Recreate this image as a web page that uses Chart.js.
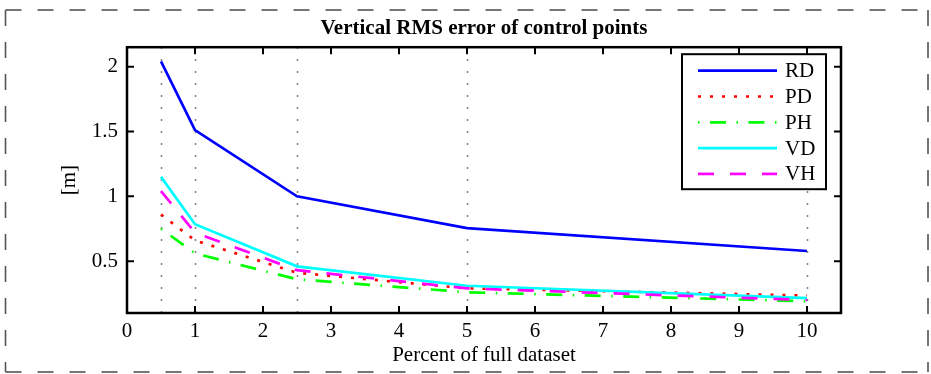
<!DOCTYPE html>
<html>
<head>
<meta charset="utf-8">
<title>Vertical RMS error of control points</title>
<script src="https://cdn.jsdelivr.net/npm/chart.js@4.4.1/dist/chart.umd.min.js"></script>
<style>
  html, body { margin: 0; padding: 0; background: #fff; }
  canvas { display: block; }
</style>
</head>
<body>
<canvas id="rmsChart" width="931" height="374"></canvas>
<script>
// percent of full dataset used
const percents = [0.5, 1, 2.5, 5, 10];

// vertical RMS error [m] per method
const rdErr = [2.04, 1.51, 1.00, 0.755, 0.578];
const pdErr = [0.86, 0.66, 0.41, 0.29, 0.235];
const phErr = [0.75, 0.56, 0.36, 0.26, 0.19];
const vdErr = [1.15, 0.785, 0.46, 0.31, 0.215];
const vhErr = [1.04, 0.72, 0.43, 0.29, 0.20];

const xTickValues = [0, 1, 2, 3, 4, 5, 6, 7, 8, 9, 10];
const yTickValues = [0.5, 1, 1.5, 2];

const serif = '"Liberation Serif", "Times New Roman", serif';

function series(label, values, color, dash, order) {
    return {
        label: label,
        data: values.map((v, i) => ({ x: percents[i], y: v })),
        borderColor: color,
        borderWidth: 2.7,
        borderDash: dash,
        pointRadius: 0,
        fill: false,
        tension: 0,
        order: order
    };
}

// matlab style frame: dotted grid at sample points, boxed axes with inward ticks,
// boxed legend and the dashed figure outline
const matlabFrame = {
    id: 'matlabFrame',
    beforeDatasetsDraw(chart) {
        const ctx = chart.ctx;
        const area = chart.chartArea;
        const x = chart.scales.x;
        ctx.save();
        ctx.strokeStyle = '#808080';
        ctx.lineWidth = 1.5;
        ctx.setLineDash([2, 10]);
        percents.forEach(p => {
            const px = Math.round(x.getPixelForValue(p)) + 0.5;
            ctx.beginPath();
            ctx.moveTo(px, area.bottom);
            ctx.lineTo(px, area.top);
            ctx.stroke();
        });
        ctx.restore();
    },
    afterDatasetsDraw(chart) {
        const ctx = chart.ctx;
        const area = chart.chartArea;
        const x = chart.scales.x;
        const y = chart.scales.y;
        const tick = 7;
        ctx.save();
        ctx.strokeStyle = '#000';
        ctx.lineWidth = 2;
        ctx.setLineDash([]);
        xTickValues.forEach(v => {
            const px = x.getPixelForValue(v);
            ctx.beginPath();
            ctx.moveTo(px, area.bottom);
            ctx.lineTo(px, area.bottom - tick);
            ctx.moveTo(px, area.top);
            ctx.lineTo(px, area.top + tick);
            ctx.stroke();
        });
        yTickValues.forEach(v => {
            const py = y.getPixelForValue(v);
            ctx.beginPath();
            ctx.moveTo(area.left, py);
            ctx.lineTo(area.left + tick, py);
            ctx.moveTo(area.right, py);
            ctx.lineTo(area.right - tick, py);
            ctx.stroke();
        });
        ctx.lineWidth = 2.5;
        ctx.strokeRect(area.left, area.top, area.right - area.left, area.bottom - area.top);
        ctx.restore();
    },
    afterDraw(chart) {
        const ctx = chart.ctx;
        const area = chart.chartArea;
        ctx.save();

        // legend box
        const lw = 144, lh = 135;
        const lx = area.right - 15 - lw;
        const ly = area.top + 7;
        ctx.fillStyle = '#fff';
        ctx.fillRect(lx, ly, lw, lh);
        ctx.strokeStyle = '#000';
        ctx.lineWidth = 2;
        ctx.strokeRect(lx, ly, lw, lh);
        ctx.font = '21px ' + serif;
        ctx.textBaseline = 'middle';
        ctx.textAlign = 'left';
        chart.data.datasets.forEach((ds, i) => {
            const rowY = ly + 16.5 + i * 25.8;
            ctx.strokeStyle = ds.borderColor;
            ctx.lineWidth = ds.borderWidth;
            ctx.setLineDash(ds.borderDash || []);
            ctx.beginPath();
            ctx.moveTo(lx + 16, rowY);
            ctx.lineTo(lx + 95, rowY);
            ctx.stroke();
            ctx.setLineDash([]);
            ctx.fillStyle = '#000';
            ctx.fillText(ds.label, lx + 103, rowY + 1);
        });

        // dashed figure outline
        const l = 5.5, t = 10, r = 928, b = 372;
        ctx.strokeStyle = '#555';
        ctx.lineWidth = 1.6;
        ctx.setLineDash([16, 16]);
        [[l, t, r, t], [l, t, l, b], [r, t, r, b], [l, b, r, b]].forEach(s => {
            ctx.beginPath();
            ctx.moveTo(s[0], s[1]);
            ctx.lineTo(s[2], s[3]);
            ctx.stroke();
        });
        ctx.restore();
    }
};

new Chart(document.getElementById('rmsChart'), {
    type: 'line',
    data: {
        datasets: [
            series('RD', rdErr, '#0000ff', [], 4),
            series('PD', pdErr, '#ff0000', [3, 9], 3),
            series('PH', phErr, '#00ff00', [1.5, 10.5, 16, 10.5], 2),
            series('VD', vdErr, '#00ffff', [], 1),
            series('VH', vhErr, '#ff00ff', [16, 16], 0)
        ]
    },
    options: {
        responsive: false,
        animation: false,
        devicePixelRatio: 1,
        layout: {
            padding: { left: 0, right: 90, top: 0, bottom: 0 }
        },
        plugins: {
            legend: { display: false },
            tooltip: { enabled: false },
            title: {
                display: true,
                text: 'Vertical RMS error of control points',
                color: '#000',
                fullSize: false,
                font: { family: serif, size: 21, weight: 'bold' },
                padding: { top: 16, bottom: 6 }
            }
        },
        scales: {
            x: {
                type: 'linear',
                min: 0,
                max: 10.5,
                afterBuildTicks: s => { s.ticks = xTickValues.map(v => ({ value: v })); },
                afterFit: s => { s.height = 61; },
                grid: { display: false, drawTicks: false },
                border: { display: false },
                ticks: {
                    color: '#000',
                    font: { family: serif, size: 21 },
                    padding: 6,
                    maxRotation: 0,
                    autoSkip: false,
                    callback: v => String(v)
                },
                title: {
                    display: true,
                    text: 'Percent of full dataset',
                    color: '#000',
                    font: { family: serif, size: 21 },
                    padding: { top: 0, bottom: 6 }
                }
            },
            y: {
                type: 'linear',
                min: 0.1,
                max: 2.15,
                afterBuildTicks: s => { s.ticks = yTickValues.map(v => ({ value: v })); },
                afterFit: s => { s.width = 127; },
                grid: { display: false, drawTicks: false },
                border: { display: false },
                ticks: {
                    color: '#000',
                    font: { family: serif, size: 21 },
                    padding: 9,
                    callback: v => String(v)
                },
                title: {
                    display: true,
                    text: '[m]',
                    color: '#000',
                    font: { family: serif, size: 21 },
                    padding: { top: 57, bottom: 0 }
                }
            }
        }
    },
    plugins: [matlabFrame]
});
</script>
</body>
</html>
